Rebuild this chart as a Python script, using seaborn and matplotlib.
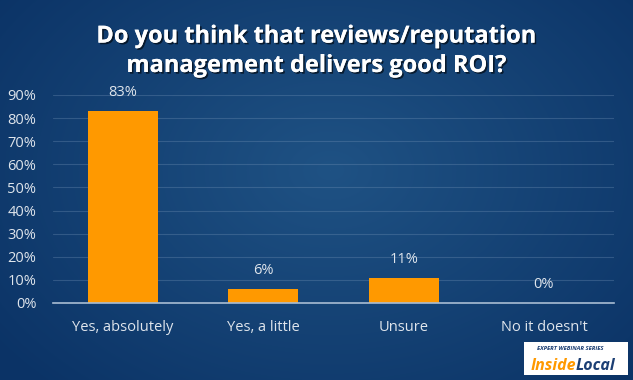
import numpy as np
import pandas as pd
import seaborn as sns
import matplotlib.pyplot as plt
import matplotlib.patheffects as pe

categorias = ["Yes, absolutely", "Yes, a little", "Unsure", "No it doesn't"]
valores = [0.83, 0.06, 0.11, 0.0]
etiquetas = ["83%", "6%", "11%", "0%"]
ticks_y = [0, 0.1, 0.2, 0.3, 0.4, 0.5, 0.6, 0.7, 0.8, 0.9]
ticks_txt = ["0%", "10%", "20%", "30%", "40%", "50%", "60%", "70%", "80%", "90%"]

datos = pd.DataFrame({"respuesta": categorias, "valor": valores})

sns.set_style("dark")
plt.rcParams["font.family"] = ["Open Sans", "DejaVu Sans"]
texto = "#dfe5ec"

fig = plt.figure(figsize=(6.33, 3.8), dpi=100)

# fondo azul con degradado radial
fondo = fig.add_axes([0, 0, 1, 1], zorder=0)
yy, xx = np.mgrid[0:380, 0:633]
r = np.sqrt(((xx - 330) / 420.0) ** 2 + ((yy - 170) / 300.0) ** 2)
r = np.clip(r, 0, 1)
c_centro = np.array([0x1f, 0x52, 0x84]) / 255
c_borde = np.array([0x0b, 0x33, 0x66]) / 255
img = c_centro[None, None, :] * (1 - r[..., None]) + c_borde[None, None, :] * r[..., None]
fondo.imshow(img, aspect="auto", extent=[0, 1, 0, 1])
fondo.axis("off")

ax = fig.add_axes([53 / 633, 1 - 303 / 380, 561 / 633, 208 / 380], zorder=1)
ax.patch.set_alpha(0)
sns.barplot(data=datos, x="respuesta", y="valor", color="#ff9900", saturation=1,
            width=0.5, edgecolor="none", linewidth=0, ax=ax)
ax.set_xlim(-0.5, 3.5)
ax.set_ylim(0, 0.9)
ax.set_yticks(ticks_y)
ax.set_yticklabels(ticks_txt)
ax.set_xlabel("")
ax.set_ylabel("")
ax.grid(axis="y", color="#6f8fb3", alpha=0.35, linewidth=0.8)
ax.grid(axis="x", visible=False)
for s in ["top", "right", "left"]:
    ax.spines[s].set_visible(False)
ax.spines["bottom"].set_color("#a9bdd3")
ax.spines["bottom"].set_linewidth(1.2)
ax.tick_params(axis="both", length=0, colors=texto, labelsize=10.5)
ax.tick_params(axis="x", pad=12)
ax.tick_params(axis="y", pad=12)

for i, v in enumerate(valores):
    ax.text(i, v + 0.08, etiquetas[i], ha="center", va="center", color=texto, fontsize=10.5)

fig.text(0.5, 0.865, "Do you think that reviews/reputation\nmanagement delivers good ROI?",
         ha="center", va="center", color="white", fontsize=17, fontweight="bold",
         linespacing=1.3,
         path_effects=[pe.withSimplePatchShadow(offset=(1.2, -1.2), shadow_rgbFace="black", alpha=0.6),
                       pe.Normal()])

# logo
fig.patches.append(plt.Rectangle((524 / 633, 5 / 380), 104 / 633, 33 / 380, transform=fig.transFigure,
                                 facecolor="white", edgecolor="none", zorder=3))
fig.text(0.848, 0.080, "EXPERT WEBINAR SERIES", fontsize=4.2, color="#1c3f74",
         fontstyle="italic", fontweight="bold", zorder=4)
fig.text(0.838, 0.027, "Inside", fontsize=11.5, color="#ff9900", fontstyle="italic",
         fontweight="bold", zorder=4)
fig.text(0.910, 0.027, "Local", fontsize=11.5, color="#1c3f74", fontstyle="italic",
         fontweight="bold", zorder=4)

plt.savefig("out.png", dpi=100)
